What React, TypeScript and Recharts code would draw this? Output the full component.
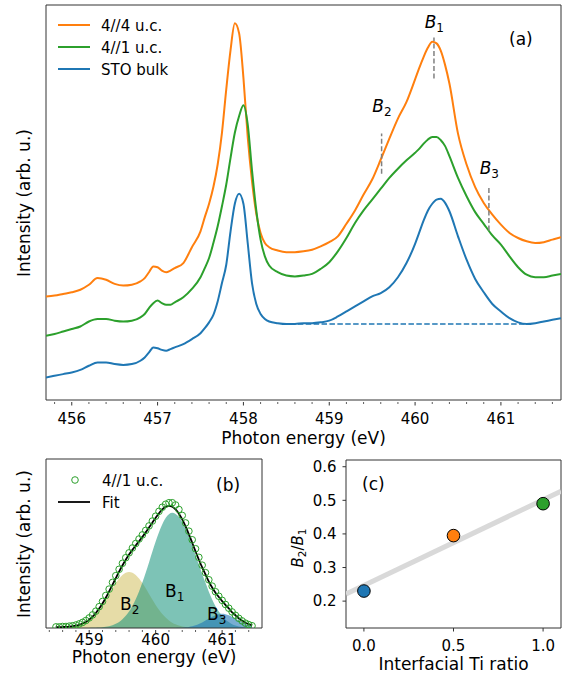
import React from 'react';
import {
  ComposedChart, Line, Area, XAxis, YAxis, ReferenceLine, ReferenceArea, Scatter, Cell,
} from 'recharts';

// ---- panel (a): XAS spectra, three samples ----
const A_ENERGY = [
  455.7, 455.8, 455.9, 456.0, 456.1, 456.2, 456.3, 456.4, 456.5, 456.6,
  456.7, 456.8, 456.85, 456.9, 456.95, 457.0, 457.05, 457.1, 457.15, 457.2,
  457.3, 457.4, 457.5, 457.55, 457.6, 457.65, 457.7, 457.75, 457.8, 457.85,
  457.9, 457.95, 458.0, 458.05, 458.1, 458.15, 458.2, 458.25, 458.3, 458.4,
  458.5, 458.6, 458.7, 458.8, 458.9, 459.0, 459.1, 459.2, 459.3, 459.4,
  459.5, 459.6, 459.7, 459.8, 459.9, 460.0, 460.05, 460.1, 460.15, 460.2,
  460.25, 460.3, 460.35, 460.4, 460.5, 460.6, 460.7, 460.8, 460.9, 461.0,
  461.1, 461.2, 461.3, 461.4, 461.5, 461.6, 461.7,
];
const A_44UC = [
  1.04, 1.05, 1.07, 1.09, 1.12, 1.18, 1.26, 1.24, 1.19, 1.17,
  1.18, 1.22, 1.26, 1.33, 1.40, 1.39, 1.35, 1.33, 1.35, 1.38,
  1.44, 1.63, 1.82, 1.99, 2.15, 2.35, 2.62, 3.00, 3.52, 3.99,
  4.31, 4.19, 3.66, 2.95, 2.42, 2.03, 1.80, 1.68, 1.63, 1.59,
  1.57, 1.57, 1.58, 1.60, 1.64, 1.69, 1.76, 1.91, 2.07, 2.26,
  2.44, 2.68, 2.93, 3.17, 3.37, 3.64, 3.78, 3.91, 4.02, 4.09,
  4.07, 3.98, 3.81, 3.59, 2.99, 2.62, 2.35, 2.16, 2.02, 1.90,
  1.80, 1.74, 1.70, 1.68, 1.69, 1.72, 1.75,
];
const A_41UC = [
  0.57, 0.59, 0.62, 0.65, 0.68, 0.74, 0.77, 0.77, 0.75, 0.74,
  0.75, 0.79, 0.83, 0.90, 0.96, 0.99, 0.96, 0.94, 0.94, 0.97,
  1.03, 1.13, 1.27, 1.38, 1.50, 1.68, 1.88, 2.12, 2.38, 2.70,
  3.00, 3.20, 3.33, 3.10, 2.55, 2.07, 1.72, 1.52, 1.41, 1.33,
  1.29, 1.28, 1.29, 1.31, 1.37, 1.45, 1.58, 1.74, 1.92, 2.07,
  2.20, 2.33, 2.46, 2.57, 2.67, 2.76, 2.81, 2.87, 2.92, 2.95,
  2.95, 2.91, 2.84, 2.72, 2.46, 2.24, 2.05, 1.91, 1.77, 1.66,
  1.52, 1.39, 1.30, 1.27, 1.27, 1.29, 1.31,
];
const A_BULK = [
  0.07, 0.09, 0.11, 0.13, 0.16, 0.21, 0.25, 0.25, 0.23, 0.22,
  0.23, 0.27, 0.31, 0.37, 0.43, 0.42, 0.40, 0.39, 0.41, 0.43,
  0.47, 0.53, 0.60, 0.66, 0.73, 0.82, 0.98, 1.20, 1.42, 1.82,
  2.15, 2.27, 2.15, 1.68, 1.20, 0.95, 0.83, 0.77, 0.74, 0.72,
  0.71, 0.71, 0.72, 0.72, 0.73, 0.75, 0.80, 0.86, 0.92, 0.98,
  1.04, 1.08, 1.15, 1.27, 1.44, 1.67, 1.81, 1.95, 2.07, 2.15,
  2.20, 2.21, 2.16, 2.06, 1.76, 1.48, 1.25, 1.09, 0.95, 0.86,
  0.78, 0.73, 0.71, 0.72, 0.74, 0.76, 0.78,
];
const A_BASE_X = [458.45, 461.3];
const A_BASE_Y = [0.71, 0.71];
const A_MAJOR = [456, 457, 458, 459, 460, 461];
const A_MINOR = [
  455.8, 456.2, 456.4, 456.6, 456.8, 457.2, 457.4, 457.6, 457.8, 458.2, 458.4, 458.6, 458.8,
  459.2, 459.4, 459.6, 459.8, 460.2, 460.4, 460.6, 460.8, 461.2, 461.4, 461.6,
];
// B1, B2, B3 marker positions and their vertical extent
const MARK_E = [460.22, 459.61, 460.86];
const MARK_LO = [3.65, 2.51, 1.83];
const MARK_HI = [4.14, 2.99, 2.34];

// ---- panel (b): 4//1 u.c. fit ----
const B_ENERGY = [
  458.5, 458.55, 458.6, 458.65, 458.7, 458.75, 458.8, 458.85, 458.9, 458.95,
  459.0, 459.05, 459.1, 459.15, 459.2, 459.25, 459.3, 459.35, 459.4, 459.45,
  459.5, 459.55, 459.6, 459.65, 459.7, 459.75, 459.8, 459.85, 459.9, 459.95,
  460.0, 460.05, 460.1, 460.15, 460.2, 460.25, 460.3, 460.35, 460.4, 460.45,
  460.5, 460.55, 460.6, 460.65, 460.7, 460.75, 460.8, 460.85, 460.9, 460.95,
  461.0, 461.05, 461.1, 461.15, 461.2, 461.25, 461.3, 461.35, 461.4, 461.45,
];
const B_DATA = [
  0.03, 0.03, 0.04, 0.04, 0.05, 0.06, 0.08, 0.11, 0.15, 0.20,
  0.27, 0.35, 0.45, 0.57, 0.71, 0.87, 1.04, 1.22, 1.40, 1.57,
  1.73, 1.88, 2.01, 2.14, 2.26, 2.38, 2.49, 2.61, 2.73, 2.86,
  2.99, 3.12, 3.23, 3.31, 3.35, 3.35, 3.29, 3.17, 3.01, 2.81,
  2.59, 2.36, 2.12, 1.89, 1.68, 1.48, 1.29, 1.12, 0.97, 0.85,
  0.74, 0.63, 0.53, 0.43, 0.34, 0.26, 0.19, 0.13, 0.09, 0.06,
];
const B_FIT = [
  0.022, 0.023, 0.026, 0.030, 0.037, 0.047, 0.063, 0.086, 0.120, 0.164,
  0.225, 0.303, 0.401, 0.519, 0.656, 0.810, 0.979, 1.155, 1.332, 1.507,
  1.672, 1.824, 1.963, 2.089, 2.207, 2.321, 2.436, 2.557, 2.685, 2.816,
  2.949, 3.070, 3.172, 3.241, 3.268, 3.243, 3.172, 3.058, 2.904, 2.717,
  2.505, 2.279, 2.049, 1.826, 1.619, 1.431, 1.241, 1.081, 0.943, 0.830,
  0.720, 0.620, 0.523, 0.421, 0.341, 0.259, 0.195, 0.142, 0.101, 0.071,
];
const B_PEAK1 = [
  0, 0, 0, 0, 0, 0, 0, 0, 0.001, 0.001,
  0.002, 0.004, 0.007, 0.012, 0.019, 0.031, 0.049, 0.075, 0.111, 0.163,
  0.233, 0.325, 0.443, 0.590, 0.768, 0.977, 1.215, 1.477, 1.755, 2.037,
  2.312, 2.563, 2.778, 2.942, 3.045, 3.080, 3.051, 2.967, 2.832, 2.653,
  2.439, 2.202, 1.950, 1.696, 1.447, 1.212, 0.970, 0.760, 0.580, 0.440,
  0.320, 0.230, 0.160, 0.100, 0.070, 0.040, 0.025, 0.015, 0.008, 0.004,
];
const B_PEAK2 = [
  0.002, 0.003, 0.006, 0.010, 0.017, 0.027, 0.043, 0.066, 0.099, 0.143,
  0.203, 0.279, 0.374, 0.487, 0.617, 0.759, 0.910, 1.060, 1.201, 1.324,
  1.419, 1.479, 1.500, 1.479, 1.419, 1.324, 1.201, 1.060, 0.910, 0.759,
  0.617, 0.487, 0.374, 0.279, 0.203, 0.143, 0.099, 0.066, 0.043, 0.027,
  0.017, 0.010, 0.006, 0.003, 0.002, 0, 0, 0, 0, 0,
  0, 0, 0, 0, 0, 0, 0, 0, 0, 0,
];
const B_PEAK3 = [
  0, 0, 0, 0, 0, 0, 0, 0, 0, 0,
  0, 0, 0, 0, 0, 0, 0, 0, 0, 0,
  0, 0, 0, 0, 0, 0, 0, 0, 0, 0,
  0, 0, 0, 0, 0, 0, 0.002, 0.005, 0.009, 0.017,
  0.029, 0.047, 0.073, 0.107, 0.150, 0.199, 0.251, 0.301, 0.343, 0.370,
  0.380, 0.370, 0.343, 0.301, 0.251, 0.199, 0.150, 0.107, 0.073, 0.047,
];
const B_MAJOR = [459, 460, 461];
const B_MINOR = [458.4, 458.6, 458.8, 459.2, 459.4, 459.6, 459.8, 460.2, 460.4, 460.6, 460.8, 461.2, 461.4];

// ---- panel (c): B2/B1 vs interfacial Ti ratio ----
const C_RATIO = [0, 0.5, 1.0];
const C_B2B1 = [0.23, 0.395, 0.49];
const C_COLORS = ['#1f77b4', '#ff7f0e', '#2ca02c'];
const C_TREND_X = [-0.1, 1.1];
const C_TREND_Y = [0.221, 0.527];

const ORANGE = '#ff7f0e';
const GREEN = '#2ca02c';
const BLUE = '#1f77b4';
const SPINE = '#333';
const FONT = '"DejaVu Sans", sans-serif';

const aRows = A_ENERGY.map((e, i) => ({ e, o: A_44UC[i], g: A_41UC[i], b: A_BULK[i] }));
const aBase = A_BASE_X.map((e, i) => ({ e, y: A_BASE_Y[i] }));
const bRows = B_ENERGY.map((e, i) => ({
  e, d: B_DATA[i], fit: B_FIT[i], p1: B_PEAK1[i], p2: B_PEAK2[i], p3: B_PEAK3[i],
}));
const cRows = C_RATIO.map((x, i) => ({ x, y: C_B2B1[i] }));
const cTrend = C_TREND_X.map((x, i) => ({ x, y: C_TREND_Y[i] }));

// major ticks get a label, minor ones only a short line
const energyTick = (labelDy: number) => (props: any) => {
  const { x, y, payload } = props;
  const v = payload.value;
  const major = Math.abs(v - Math.round(v)) < 1e-6;
  return (
    <g>
      <line x1={x} x2={x} y1={y} y2={y + (major ? 3.5 : 2)} stroke={SPINE} strokeWidth={major ? 1 : 0.8} />
      {major && (
        <text x={x} y={y + labelDy} textAnchor="middle" fontSize={15} fill="#000">{v}</text>
      )}
    </g>
  );
};

const dotShape = (props: any) => (
  <circle cx={props.cx} cy={props.cy} r={6.3} fill={props.fill} stroke="#000" strokeWidth={1} />
);

function PanelA() {
  return (
    <ComposedChart width={566} height={450} data={aRows} margin={{ top: 5, right: 5, bottom: 0, left: 0 }}>
      <XAxis dataKey="e" type="number" domain={[455.7, 461.7]} ticks={[...A_MAJOR, ...A_MINOR]} interval={0}
        tick={energyTick(22)} tickLine={false} tickSize={0} axisLine={false} height={50} allowDataOverflow />
      <YAxis type="number" domain={[-0.2, 4.53]} ticks={[0, 1, 2, 3, 4]} interval={0} tick={false}
        tickSize={3.5} tickLine={{ stroke: SPINE }} axisLine={false} width={46} allowDataOverflow />
      <ReferenceArea x1={455.7} x2={461.7} y1={-0.2} y2={4.53} fill="none" stroke={SPINE} strokeWidth={1} ifOverflow="visible" />
      <Line dataKey="o" type="monotone" stroke={ORANGE} strokeWidth={2} dot={false} isAnimationActive={false} />
      <Line dataKey="g" type="monotone" stroke={GREEN} strokeWidth={2} dot={false} isAnimationActive={false} />
      <Line dataKey="b" type="monotone" stroke={BLUE} strokeWidth={2} dot={false} isAnimationActive={false} />
      <Line data={aBase} dataKey="y" type="linear" stroke={BLUE} strokeWidth={1.5} strokeDasharray="5.5 2.4"
        dot={false} isAnimationActive={false} />
      {MARK_E.map((e, i) => (
        <ReferenceLine key={e} segment={[{ x: e, y: MARK_LO[i] }, { x: e, y: MARK_HI[i] }]}
          stroke="#808080" strokeWidth={1.5} strokeDasharray="5 2.5" />
      ))}
    </ComposedChart>
  );
}

function PanelB() {
  return (
    <ComposedChart width={283} height={223} data={bRows} margin={{ top: 9, right: 21, bottom: 0, left: 0 }}>
      <XAxis dataKey="e" type="number" domain={[458.35, 461.6]} ticks={[...B_MAJOR, ...B_MINOR]} interval={0}
        tick={energyTick(14.5)} tickLine={false} tickSize={0} axisLine={false} height={45} allowDataOverflow />
      <YAxis type="number" domain={[0, 4.52]} ticks={[0, 1, 2, 3, 4]} interval={0} tick={false}
        tickSize={3.5} tickLine={{ stroke: SPINE }} axisLine={false} width={46} allowDataOverflow />
      <Area dataKey="p2" type="monotone" stroke="none" fill="#cdb950" fillOpacity={0.5} isAnimationActive={false} activeDot={false} />
      <Area dataKey="p1" type="monotone" stroke="none" fill="#13927a" fillOpacity={0.55} isAnimationActive={false} activeDot={false} />
      <Area dataKey="p3" type="monotone" stroke="none" fill={BLUE} fillOpacity={0.6} isAnimationActive={false} activeDot={false} />
      <Line dataKey="d" stroke="none" dot={{ r: 3.3, stroke: GREEN, strokeWidth: 1, fill: 'none' }}
        activeDot={false} isAnimationActive={false} />
      <Line dataKey="fit" type="monotone" stroke="#000" strokeWidth={1.8} dot={false} isAnimationActive={false} />
      <ReferenceArea x1={458.35} x2={461.6} y1={0} y2={4.52} fill="none" stroke={SPINE} strokeWidth={1} ifOverflow="visible" />
    </ComposedChart>
  );
}

function PanelC() {
  return (
    <ComposedChart width={283} height={223} margin={{ top: 10, right: 5, bottom: 0, left: 0 }}>
      <XAxis dataKey="x" type="number" domain={[-0.1, 1.1]} ticks={[0, 0.5, 1]} interval={0}
        tickFormatter={(v: number) => v.toFixed(1)} tick={{ fill: '#000', fontSize: 15 }}
        tickSize={3.5} tickMargin={8.5} tickLine={{ stroke: SPINE }} axisLine={false} height={45} allowDataOverflow />
      <YAxis dataKey="y" type="number" domain={[0.12, 0.62]} ticks={[0.2, 0.3, 0.4, 0.5, 0.6]} interval={0}
        tickFormatter={(v: number) => v.toFixed(1)} tick={{ fill: '#000', fontSize: 15 }}
        tickSize={3.5} tickMargin={6} tickLine={{ stroke: SPINE }} axisLine={false} width={63} allowDataOverflow />
      <Line data={cTrend} dataKey="y" type="linear" stroke="#d9d9d9" strokeWidth={5} dot={false} isAnimationActive={false} />
      <Scatter data={cRows} dataKey="y" shape={dotShape} isAnimationActive={false}>
        {cRows.map((r, i) => <Cell key={i} fill={C_COLORS[i]} />)}
      </Scatter>
      <ReferenceArea x1={-0.1} x2={1.1} y1={0.12} y2={0.62} fill="none" stroke={SPINE} strokeWidth={1} ifOverflow="visible" />
    </ComposedChart>
  );
}

function Labels() {
  return (
    <svg width={566} height={673} style={{ position: 'absolute', left: 0, top: 0, pointerEvents: 'none' }}>
      {/* panel (a) legend */}
      <line x1={58} x2={90} y1={25} y2={25} stroke={ORANGE} strokeWidth={2} />
      <line x1={58} x2={90} y1={47} y2={47} stroke={GREEN} strokeWidth={2} />
      <line x1={58} x2={90} y1={69} y2={69} stroke={BLUE} strokeWidth={2} />
      <text x={101} y={31} fontSize={15}>4//4 u.c.</text>
      <text x={101} y={53} fontSize={15}>4//1 u.c.</text>
      <text x={101} y={75} fontSize={15}>STO bulk</text>
      <text x={509} y={45} fontSize={17}>(a)</text>
      <text x={424.7} y={28} fontSize={17}><tspan fontStyle="italic">B</tspan><tspan fontSize={12} dy={4}>1</tspan></text>
      <text x={372.3} y={112} fontSize={17}><tspan fontStyle="italic">B</tspan><tspan fontSize={12} dy={4}>2</tspan></text>
      <text x={479.7} y={174} fontSize={17}><tspan fontStyle="italic">B</tspan><tspan fontSize={12} dy={4}>3</tspan></text>
      <text transform="translate(29.5,203) rotate(-90)" textAnchor="middle" fontSize={17}>Intensity (arb. u.)</text>
      <text x={303.5} y={444} textAnchor="middle" fontSize={17}>Photon energy (eV)</text>

      {/* panel (b) */}
      <circle cx={75} cy={480} r={3.3} fill="none" stroke={GREEN} strokeWidth={1} />
      <text x={102} y={486} fontSize={15}>4//1 u.c.</text>
      <line x1={58} x2={90} y1={502} y2={502} stroke="#000" strokeWidth={1.8} />
      <text x={102} y={507.5} fontSize={15}>Fit</text>
      <text x={216} y={491} fontSize={17}>(b)</text>
      <text x={120} y={610} fontSize={17}>B<tspan fontSize={12} dy={4}>2</tspan></text>
      <text x={165} y={597} fontSize={17}>B<tspan fontSize={12} dy={4}>1</tspan></text>
      <text x={207} y={620} fontSize={17}>B<tspan fontSize={12} dy={4}>3</tspan></text>
      <text transform="translate(29.5,544) rotate(-90)" textAnchor="middle" fontSize={17}>Intensity (arb. u.)</text>
      <text x={154} y={663} textAnchor="middle" fontSize={17}>Photon energy (eV)</text>

      {/* panel (c) */}
      <text x={362} y={490} fontSize={17}>(c)</text>
      <text transform="translate(303,548) rotate(-90)" textAnchor="middle" fontSize={15}>
        <tspan fontStyle="italic">B</tspan><tspan fontSize={10.5} dy={3}>2</tspan>
        <tspan dy={-3}>/</tspan><tspan fontStyle="italic">B</tspan><tspan fontSize={10.5} dy={3}>1</tspan>
      </text>
      <text x={453.5} y={669.5} textAnchor="middle" fontSize={17}>Interfacial Ti ratio</text>
    </svg>
  );
}

export default function App() {
  return (
    <div style={{ position: 'absolute', left: 0, top: 0, width: 566, height: 673, background: '#fff', fontFamily: FONT }}>
      <div style={{ position: 'absolute', left: 0, top: 0 }}><PanelA /></div>
      <div style={{ position: 'absolute', left: 0, top: 450 }}><PanelB /></div>
      <div style={{ position: 'absolute', left: 283, top: 450 }}><PanelC /></div>
      <Labels />
    </div>
  );
}
